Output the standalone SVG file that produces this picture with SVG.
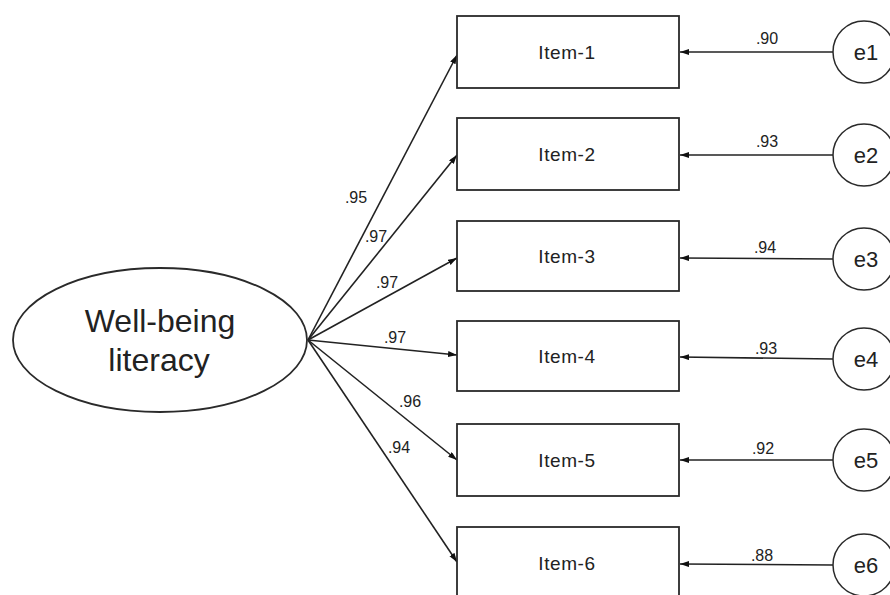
<svg xmlns="http://www.w3.org/2000/svg" width="890" height="595" viewBox="0 0 890 595">
<style>
.box{fill:#fff;stroke:#2a2a2a;stroke-width:1.8}
.err{fill:#fff;stroke:#2a2a2a;stroke-width:1.5}
.lat{fill:#fff;stroke:#2a2a2a;stroke-width:1.8}
.lbl{font-family:"Liberation Sans",Arial,sans-serif;fill:#222;text-anchor:middle}
.item{font-size:19px;letter-spacing:0.6px}
.e{font-size:22px}
.num{font-size:16px}
.big{font-size:32px}
.con{stroke:#222;stroke-width:1.6;fill:none;marker-end:url(#ah)}
</style>
<defs>
<marker id="ah" markerUnits="userSpaceOnUse" markerWidth="10" markerHeight="8" refX="9" refY="3" orient="auto">
<path d="M0,0 L9,3 L0,6 z" fill="#111"/>
</marker>
</defs>
<rect width="890" height="595" fill="#fff"/>
<g id="connectors">
<line class="con" x1="308" y1="340" x2="457" y2="55"/>
<line class="con" x1="308" y1="340" x2="457" y2="155"/>
<line class="con" x1="308" y1="340" x2="457" y2="258"/>
<line class="con" x1="308" y1="340" x2="457" y2="355"/>
<line class="con" x1="308" y1="340" x2="457" y2="460"/>
<line class="con" x1="308" y1="340" x2="457" y2="562"/>
<line class="con" x1="833" y1="52" x2="680" y2="52"/>
<line class="con" x1="833" y1="155" x2="680" y2="155"/>
<line class="con" x1="833" y1="259" x2="680" y2="258"/>
<line class="con" x1="833" y1="359" x2="680" y2="357"/>
<line class="con" x1="833" y1="460" x2="680" y2="460"/>
<line class="con" x1="833" y1="565" x2="680" y2="564"/>
<g class="lbl num">
<text x="356" y="203">.95</text>
<text x="376" y="242">.97</text>
<text x="387" y="288">.97</text>
<text x="395" y="343">.97</text>
<text x="410" y="407">.96</text>
<text x="399" y="453">.94</text>
<text x="767" y="44">.90</text>
<text x="767" y="147">.93</text>
<text x="765" y="253">.94</text>
<text x="766" y="354">.93</text>
<text x="763" y="454">.92</text>
<text x="762" y="561">.88</text>
</g>
</g>
<g id="latent">
<ellipse class="lat" cx="160" cy="340" rx="147" ry="72"/>
<text class="lbl big" x="160" y="332">Well-being</text>
<text class="lbl big" x="159" y="371">literacy</text>
</g>
<g id="item1"><rect class="box" x="457" y="16" width="222" height="72"/><text class="lbl item" x="567" y="59">Item-1</text></g>
<g id="item2"><rect class="box" x="457" y="118" width="222" height="72"/><text class="lbl item" x="567" y="161">Item-2</text></g>
<g id="item3"><rect class="box" x="457" y="221" width="222" height="70"/><text class="lbl item" x="567" y="263">Item-3</text></g>
<g id="item4"><rect class="box" x="457" y="321" width="222" height="70"/><text class="lbl item" x="567" y="363">Item-4</text></g>
<g id="item5"><rect class="box" x="457" y="424" width="222" height="72"/><text class="lbl item" x="567" y="467">Item-5</text></g>
<g id="item6"><rect class="box" x="457" y="527" width="222" height="72"/><text class="lbl item" x="567" y="570">Item-6</text></g>
<g id="e1"><circle class="err" cx="864" cy="52" r="31"/><text class="lbl e" x="866" y="60">e1</text></g>
<g id="e2"><circle class="err" cx="864" cy="155" r="31"/><text class="lbl e" x="866" y="163">e2</text></g>
<g id="e3"><circle class="err" cx="864" cy="259" r="31"/><text class="lbl e" x="866" y="267">e3</text></g>
<g id="e4"><circle class="err" cx="864" cy="359" r="31"/><text class="lbl e" x="866" y="367">e4</text></g>
<g id="e5"><circle class="err" cx="864" cy="460" r="31"/><text class="lbl e" x="866" y="468">e5</text></g>
<g id="e6"><circle class="err" cx="864" cy="565" r="31"/><text class="lbl e" x="866" y="573">e6</text></g>
</svg>
